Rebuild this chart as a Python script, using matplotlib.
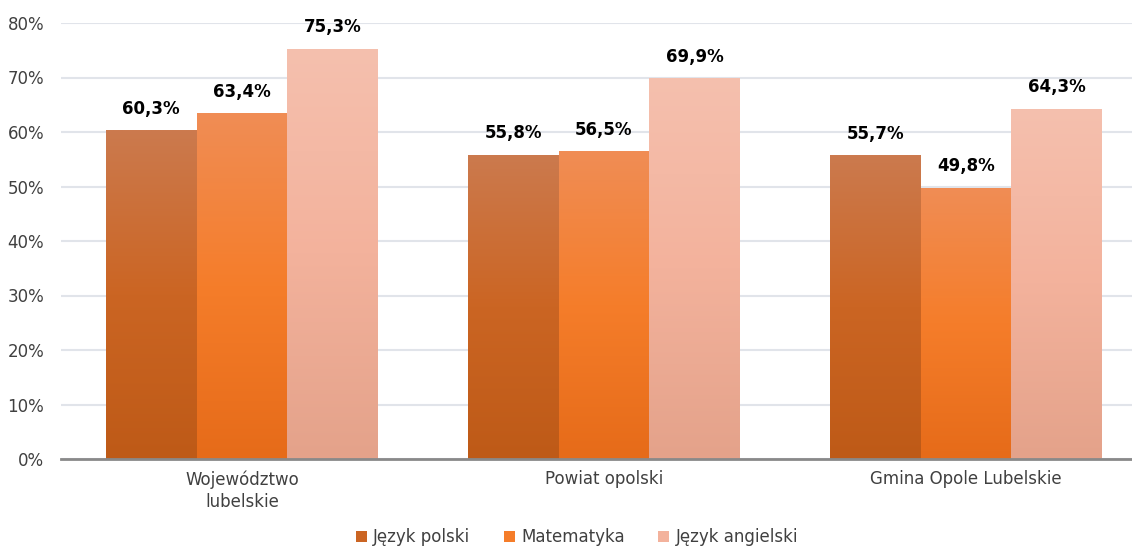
import matplotlib
matplotlib.use("Agg")
import matplotlib.pyplot as plt
import numpy as np
from matplotlib.colors import LinearSegmentedColormap
from matplotlib.patches import Patch

categories = ["Województwo\nlubelskie", "Powiat opolski", "Gmina Opole Lubelskie"]
series_names = ["Język polski", "Matematyka", "Język angielski"]
jezyk_polski = [60.3, 55.8, 55.7]
matematyka = [63.4, 56.5, 49.8]
jezyk_angielski = [75.3, 69.9, 64.3]
values = [jezyk_polski, matematyka, jezyk_angielski]
yticks = [0, 10, 20, 30, 40, 50, 60, 70, 80]

# gradient stops: bottom, middle, top
grads = [
    ["#BE5A17", "#CB6523", "#CC7A4E"],
    ["#E66B19", "#F57D2A", "#F08D55"],
    ["#E4A28A", "#F3B29C", "#F5C0AE"],
]

plt.rcParams['font.family'] = ['DejaVu Sans']
W, H = 1132, 548
fig = plt.figure(figsize=(W / 100, H / 100), dpi=100)
left_px, right_px = 61, 1147
top_px, bot_px = 23, 459
ax = fig.add_axes([left_px / W, 1 - bot_px / H, (right_px - left_px) / W, (bot_px - top_px) / H])

n = len(categories)
x = np.arange(n)
bw = 0.251
ax.set_xlim(-0.5, n - 0.5)
ax.set_ylim(0, 80)

for i, (vals, g) in enumerate(zip(values, grads)):
    cmap = LinearSegmentedColormap.from_list(f"g{i}", g)
    for j, v in enumerate(vals):
        xc = x[j] + (i - 1) * bw
        bar = ax.bar(xc, v, width=bw, color=g[1], zorder=2, linewidth=0)[0]
        grad = np.linspace(0, 1, 256).reshape(-1, 1)
        im = ax.imshow(grad, cmap=cmap, origin="lower", aspect="auto",
                       extent=(xc - bw / 2, xc + bw / 2, 0, v), zorder=3)
        im.set_clip_path(bar)
        ax.text(xc, v + 2.3, f"{v:.1f}%".replace(".", ","), ha="center", va="bottom",
                fontsize=12, fontweight="bold", color="#000000", zorder=4)

ax.set_xlim(-0.5, n - 0.5)
ax.set_ylim(0, 80)
ax.set_yticks(yticks)
ax.set_yticklabels([f"{t}%" for t in yticks])
ax.set_xticks(x)
ax.set_xticklabels(categories, linespacing=1.3)
ax.tick_params(axis="both", length=0, labelsize=12, colors="#404040")
ax.tick_params(axis="y", pad=12)
ax.tick_params(axis="x", pad=8)
ax.grid(axis="y", color="#E1E4EA", linewidth=1.5, zorder=0)
ax.set_axisbelow(True)
for s in ["top", "right", "left"]:
    ax.spines[s].set_visible(False)
ax.spines["bottom"].set_color("#898989")
ax.spines["bottom"].set_linewidth(2)
ax.spines["bottom"].set_zorder(5)

handles = [Patch(facecolor=g[1], edgecolor="none") for g in grads]
fig.legend(handles, series_names, loc="center", bbox_to_anchor=(577 / W, 1 - 537 / H),
           ncol=3, frameon=False, fontsize=12, handlelength=0.65, handleheight=0.65,
           handletextpad=0.4, columnspacing=2.0, labelcolor="#404040")

fig.savefig("out.png", dpi=100)
